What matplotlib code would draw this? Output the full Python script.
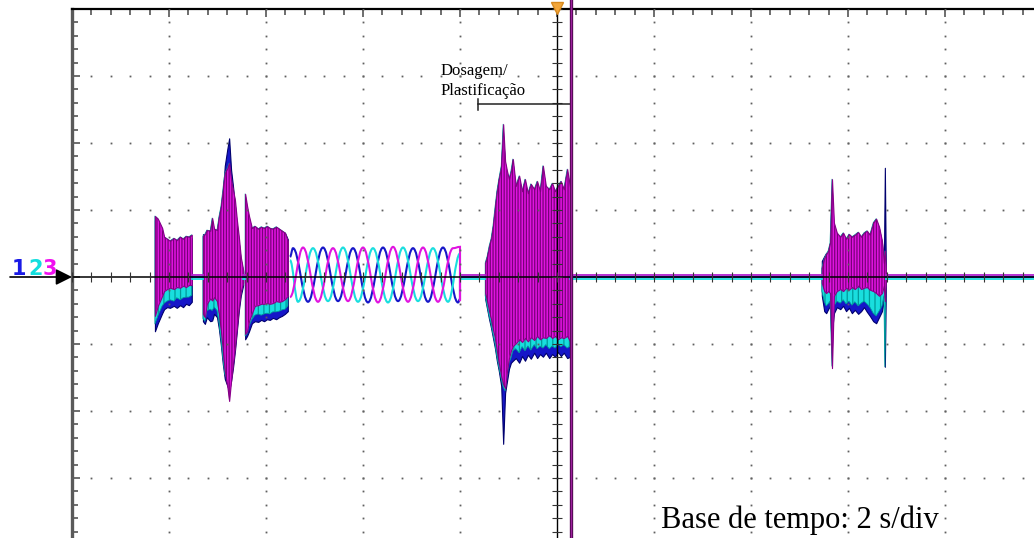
import matplotlib
matplotlib.use('Agg')
import matplotlib.pyplot as plt
from matplotlib.path import Path
from matplotlib.patches import PathPatch
from matplotlib.ticker import MultipleLocator
import numpy as np

plt.rcParams['hatch.linewidth'] = 0.9

# trace colours: ch1 blue, ch2 cyan, ch3 magenta
C_BLUE = '#1616c8'
C_CYAN = '#19dede'
C_MAG = '#e014e0'

# time in s (2 s/div), amplitude in divisions

# burst 1
b1_t = [1.71, 1.77, 1.86, 1.90, 1.96, 2.02, 2.10, 2.16, 2.23, 2.29, 2.35, 2.41, 2.47]
b1_mag_hi = [0.91, 0.87, 0.73, 0.60, 0.57, 0.54, 0.58, 0.55, 0.60, 0.57, 0.61, 0.60, 0.63]
b1_mag_lo = [-0.58, -0.43, -0.28, -0.21, -0.18, -0.16, -0.18, -0.15, -0.16, -0.13, -0.15, -0.12, -0.12]
b1_cya_lo = [-0.70, -0.58, -0.43, -0.39, -0.36, -0.34, -0.36, -0.31, -0.34, -0.31, -0.30, -0.30, -0.27]
b1_blu_hi = [0.85, 0.82, 0.68, 0.56, 0.53, 0.50, 0.54, 0.51, 0.56, 0.53, 0.57, 0.56, 0.58]
b1_blu_lo = [-0.81, -0.69, -0.54, -0.48, -0.45, -0.46, -0.43, -0.46, -0.42, -0.45, -0.40, -0.42, -0.37]

# burst 2
b2_t = [2.70, 2.74, 2.78, 2.85, 2.89, 2.93, 2.99, 3.03, 3.07, 3.11, 3.15, 3.20, 3.24, 3.28,
        3.32, 3.36, 3.40, 3.44, 3.48, 3.53]
b2_mag_hi = [0.61, 0.64, 0.70, 0.69, 0.88, 0.72, 0.70, 0.90, 1.05, 1.30, 1.55, 1.62, 1.70, 1.45,
             1.30, 1.15, 0.85, 0.60, 0.30, 0.10]
b2_mag_lo = [-0.55, -0.60, -0.40, -0.32, -0.35, -0.30, -0.36, -0.55, -0.80, -1.10, -1.40, -1.62,
             -1.85, -1.55, -1.30, -1.05, -0.75, -0.45, -0.22, -0.08]
b2_cya_lo = [-0.62, -0.66, -0.50, -0.48, -0.50, -0.45, -0.50, -0.68, -0.92, -1.20, -1.45, -1.52,
             -1.55, -1.45, -1.25, -1.00, -0.70, -0.45, -0.25, -0.10]
b2_blu_hi = [0.64, 0.60, 0.62, 0.60, 0.70, 0.66, 0.62, 0.80, 0.98, 1.25, 1.66, 1.90, 2.07, 1.60,
             1.35, 1.05, 0.75, 0.50, 0.25, 0.08]
b2_blu_lo = [-0.66, -0.70, -0.60, -0.66, -0.65, -0.55, -0.60, -0.78, -1.02, -1.30, -1.52, -1.62,
             -1.70, -1.55, -1.35, -1.10, -0.80, -0.50, -0.28, -0.12]

# burst 3
b3_t = [3.57, 3.61, 3.65, 3.71, 3.77, 3.84, 3.90, 3.96, 4.02, 4.08, 4.14, 4.21, 4.27, 4.33, 4.39, 4.45]
b3_mag_hi = [1.24, 1.06, 0.91, 0.73, 0.76, 0.72, 0.75, 0.73, 0.76, 0.73, 0.72, 0.75, 0.72, 0.69, 0.66, 0.54]
b3_mag_lo = [-0.85, -0.81, -0.66, -0.54, -0.43, -0.42, -0.40, -0.40, -0.39, -0.40, -0.39, -0.36,
             -0.37, -0.36, -0.33, -0.28]
b3_cya_lo = [-0.88, -0.84, -0.73, -0.63, -0.57, -0.55, -0.57, -0.55, -0.54, -0.55, -0.52, -0.52,
             -0.51, -0.49, -0.48, -0.43]
b3_blu_hi = [1.10, 0.98, 0.85, 0.70, 0.72, 0.69, 0.71, 0.70, 0.72, 0.70, 0.69, 0.71, 0.70, 0.68, 0.66, 0.56]
b3_blu_lo = [-0.93, -0.88, -0.81, -0.69, -0.66, -0.67, -0.64, -0.66, -0.63, -0.64, -0.61, -0.63,
             -0.60, -0.58, -0.55, -0.51]

# three-phase section: extrema of each channel
wave_mag_t = [4.495, 4.763, 5.072, 5.381, 5.691, 6.000, 6.309, 6.619, 6.928, 7.237, 7.546, 7.856,
              8.000, 8.000, 8.000]
wave_mag_v = [-0.30, 0.44, -0.37, 0.43, -0.36, 0.44, -0.38, 0.45, -0.37, 0.44, -0.37, 0.43,
              0.45, -0.36, 0.0]
wave_cya_t = [4.495, 4.660, 4.969, 5.278, 5.588, 5.897, 6.206, 6.515, 6.825, 7.134, 7.443, 7.753,
              8.000, 8.000]
wave_cya_v = [0.25, -0.37, 0.43, -0.36, 0.44, -0.37, 0.43, -0.38, 0.44, -0.36, 0.43, -0.37, 0.35, 0.0]
wave_blu_t = [4.495, 4.557, 4.866, 5.175, 5.485, 5.794, 6.103, 6.412, 6.722, 7.031, 7.340, 7.649,
              7.959, 8.000, 8.000]
wave_blu_v = [0.30, 0.43, -0.37, 0.44, -0.36, 0.43, -0.38, 0.44, -0.36, 0.43, -0.37, 0.44, -0.38,
              -0.33, 0.0]

# burst 4 (dosing / plasticising)
b4_t = [8.52, 8.56, 8.60, 8.64, 8.68, 8.72, 8.76, 8.80, 8.85, 8.89, 8.93, 8.97, 9.01, 9.05, 9.09,
        9.15, 9.22, 9.28, 9.34, 9.40, 9.46, 9.53, 9.59, 9.65, 9.71, 9.77, 9.84, 9.90, 9.96, 10.02,
        10.08, 10.14, 10.21, 10.27]
b4_mag_hi = [0.21, 0.31, 0.46, 0.57, 0.76, 1.03, 1.28, 1.46, 1.66, 2.28, 1.73, 1.58, 1.46, 1.58, 1.76,
             1.36, 1.51, 1.28, 1.46, 1.25, 1.39, 1.31, 1.43, 1.28, 1.66, 1.36, 1.31, 1.40, 1.28, 1.36,
             1.43, 1.31, 1.61, 1.34]
b4_mag_lo = [-0.24, -0.36, -0.51, -0.63, -0.78, -0.91, -1.10, -1.28, -1.48, -1.60, -1.66, -1.40,
             -1.21, -1.10, -1.03, -0.99, -0.93, -0.97, -0.91, -0.96, -0.90, -0.94, -0.88, -0.93,
             -0.90, -0.91, -0.87, -0.91, -0.88, -0.93, -0.90, -0.91, -0.88, -0.96]
b4_cya_lo = [-0.28, -0.43, -0.58, -0.70, -0.85, -0.99, -1.18, -1.34, -1.52, -1.64, -1.70, -1.48,
             -1.28, -1.21, -1.10, -1.07, -1.13, -1.04, -1.10, -1.03, -1.09, -1.01, -1.07, -1.03,
             -1.06, -1.01, -1.07, -1.03, -1.06, -1.00, -1.04, -1.01, -1.06, -1.03]
b4_blu_hi = [0.18, 0.28, 0.42, 0.53, 0.72, 0.98, 1.22, 1.40, 1.60, 2.10, 1.66, 1.52, 1.40, 1.52, 1.68,
             1.30, 1.45, 1.22, 1.40, 1.20, 1.33, 1.25, 1.37, 1.22, 1.58, 1.30, 1.25, 1.34, 1.22, 1.30,
             1.37, 1.25, 1.52, 1.28]
b4_blu_lo = [-0.33, -0.48, -0.63, -0.76, -0.91, -1.06, -1.25, -1.40, -1.63, -2.49, -1.73, -1.55,
             -1.37, -1.28, -1.25, -1.21, -1.28, -1.18, -1.25, -1.16, -1.22, -1.13, -1.21, -1.15,
             -1.19, -1.13, -1.21, -1.15, -1.19, -1.12, -1.18, -1.13, -1.21, -1.19]

# burst 5
b5_t = [15.46, 15.51, 15.55, 15.59, 15.63, 15.67, 15.71, 15.77, 15.84, 15.90, 15.96, 16.02, 16.08,
        16.14, 16.21, 16.27, 16.33, 16.39, 16.45, 16.52, 16.58, 16.64, 16.70, 16.74, 16.76, 16.78]
b5_mag_hi = [0.13, 0.28, 0.34, 0.39, 0.51, 1.46, 0.81, 0.66, 0.60, 0.66, 0.57, 0.64, 0.60, 0.63, 0.67,
             0.60, 0.66, 0.69, 0.63, 0.81, 0.87, 0.75, 0.54, 0.21, 0.39, 0.12]
b5_mag_lo = [-0.09, -0.21, -0.24, -0.21, -0.24, -1.36, -0.28, -0.21, -0.18, -0.21, -0.16, -0.19,
             -0.15, -0.18, -0.13, -0.18, -0.16, -0.15, -0.19, -0.21, -0.24, -0.28, -0.24, -0.13,
             -0.36, -0.06]
b5_cya_lo = [-0.21, -0.36, -0.43, -0.40, -0.36, -1.33, -0.43, -0.36, -0.39, -0.34, -0.40, -0.36,
             -0.42, -0.37, -0.43, -0.39, -0.36, -0.40, -0.45, -0.54, -0.58, -0.51, -0.43, -0.28,
             -1.34, -0.13]
b5_blu_hi = [0.24, 0.31, 0.36, 0.36, 0.46, 0.99, 0.70, 0.63, 0.57, 0.63, 0.54, 0.61, 0.57, 0.60, 0.64,
             0.57, 0.63, 0.66, 0.60, 0.78, 0.84, 0.72, 0.51, 0.21, 1.63, 0.10]
b5_blu_lo = [-0.28, -0.51, -0.54, -0.48, -0.43, -0.81, -0.54, -0.45, -0.48, -0.43, -0.51, -0.46,
             -0.54, -0.49, -0.55, -0.51, -0.45, -0.52, -0.58, -0.66, -0.69, -0.60, -0.51, -0.33,
             -1.34, -0.18]

# flat (idle) stretches of the three traces
idle_segments = [(2.47, 2.70), (3.53, 3.57), (8.00, 8.52), (10.27, 15.46), (16.78, 20.0)]

# full-scale spike at the end of dosing
spike_t = 10.29

bursts = [
    (b1_t, b1_mag_hi, b1_mag_lo, b1_cya_lo, b1_blu_hi, b1_blu_lo),
    (b2_t, b2_mag_hi, b2_mag_lo, b2_cya_lo, b2_blu_hi, b2_blu_lo),
    (b3_t, b3_mag_hi, b3_mag_lo, b3_cya_lo, b3_blu_hi, b3_blu_lo),
    (b4_t, b4_mag_hi, b4_mag_lo, b4_cya_lo, b4_blu_hi, b4_blu_lo),
    (b5_t, b5_mag_hi, b5_mag_lo, b5_cya_lo, b5_blu_hi, b5_blu_lo),
]


def smooth_trace(ax, ts, vs, color, lw=1.5, k=0.38):
    # cubic segments with flat tangents at each extremum
    verts = [(ts[0], vs[0])]
    codes = [Path.MOVETO]
    for i in range(1, len(ts)):
        t0, v0, t1, v1 = ts[i - 1], vs[i - 1], ts[i], vs[i]
        d = (t1 - t0) * k
        verts += [(t0 + d, v0), (t1 - d, v1), (t1, v1)]
        codes += [Path.CURVE4] * 3
    ax.add_patch(PathPatch(Path(verts, codes), fill=False, edgecolor=color, lw=lw, zorder=4))


fig = plt.figure(figsize=(10.34, 5.38), dpi=100)
ax = fig.add_axes([72 / 1034, -7 / 538, 970 / 1034, 536 / 538])
ax.set_xlim(0, 20)
ax.set_ylim(-4, 4)

ax.spines['right'].set_visible(False)
ax.spines['bottom'].set_visible(False)
ax.spines['left'].set_color('#5a5a5a')
ax.spines['left'].set_linewidth(2.4)
ax.spines['top'].set_color('black')
ax.spines['top'].set_linewidth(1.6)

ax.xaxis.set_major_locator(MultipleLocator(2))
ax.xaxis.set_minor_locator(MultipleLocator(0.4))
ax.yaxis.set_major_locator(MultipleLocator(1))
ax.yaxis.set_minor_locator(MultipleLocator(0.2))
ax.tick_params(which='both', direction='in', top=True, bottom=False, left=True, right=False,
               labeltop=False, labelbottom=False, labelleft=False, color='#555555', width=1.2)
ax.tick_params(which='major', length=6)
ax.tick_params(which='minor', length=4)

# dotted graticule
minor_t = np.arange(0, 20.001, 0.4)
minor_v = np.arange(-4, 4.001, 0.2)
for v in (-3, -2, -1, 1, 2, 3):
    ax.plot(minor_t, np.full_like(minor_t, v), ls='none', marker='s', ms=1.3, mew=0,
            color='#606060', zorder=5)
for t in (2, 4, 6, 8, 12, 14, 16, 18):
    ax.plot(np.full_like(minor_v, t), minor_v, ls='none', marker='s', ms=1.3, mew=0,
            color='#606060', zorder=5)

# idle traces
for a, b in idle_segments:
    ax.plot([a, b], [-0.03, -0.03], color=C_CYAN, lw=1.3, zorder=3)
    ax.plot([a, b], [0.0, 0.0], color=C_BLUE, lw=1.3, zorder=3)
    ax.plot([a, b], [0.035, 0.035], color='#b020d0', lw=1.3, zorder=3)

# bursts: blue under cyan under magenta, with streaks from the dense oscillation
for t, mag_hi, mag_lo, cya_lo, blu_hi, blu_lo in bursts:
    ax.fill_between(t, blu_lo, blu_hi, facecolor=C_BLUE, edgecolor='#00006e', lw=0.8, zorder=2)
    plt.rcParams['hatch.color'] = '#0a8a8a'
    ax.fill_between(t, cya_lo, mag_hi, facecolor=C_CYAN, edgecolor='#009a9a', hatch='|||',
                    lw=0.6, zorder=2.1)
    ax.fill_between(t, mag_lo, mag_hi, facecolor=C_MAG, edgecolor='#8a008a', lw=0.8, zorder=2.2)
    plt.rcParams['hatch.color'] = '#7a007a'
    ax.fill_between(t, mag_lo, mag_hi, facecolor='none', edgecolor='#7a007a', hatch='||||||',
                    lw=0, zorder=2.3)

# three-phase waves
smooth_trace(ax, wave_blu_t, wave_blu_v, C_BLUE)
smooth_trace(ax, wave_cya_t, wave_cya_v, C_CYAN)
smooth_trace(ax, wave_mag_t, wave_mag_v, C_MAG)

# spike
ax.plot([spike_t, spike_t], [4.2, -4.2], color='#5a0a5a', lw=2.4, zorder=7, clip_on=False)
ax.plot([spike_t, spike_t], [4.2, -4.2], color='#a020a0', lw=0.7, zorder=7.1, clip_on=False)

# centre axes with sub-division ticks
ax.axhline(0, color='black', lw=1.1, zorder=6)
ax.axvline(10, color='black', lw=1.0, zorder=6)
ax.plot(minor_t, np.zeros_like(minor_t), ls='none', marker='|', ms=7, mew=0.8, color='#333333', zorder=6)
ax.plot(np.full_like(minor_v, 10), minor_v, ls='none', marker='_', ms=7, mew=0.8, color='#333333', zorder=6)

# trigger marker
ax.plot([10], [4.02], marker='v', ms=9, color='#f3a63a', mec='#d88a20', clip_on=False, zorder=10)

# dosing annotation
ax.plot([8.37, spike_t], [2.58, 2.58], color='#222222', lw=1.1, zorder=6)
ax.plot([8.37, 8.37], [2.50, 2.66], color='#222222', lw=1.1, zorder=6)
ax.text(7.59, 3.01, 'Dosagem/', family='Liberation Serif', fontsize=12, va='baseline', zorder=8)
ax.text(7.59, 2.72, 'Plastificação', family='Liberation Serif', fontsize=12, va='baseline', zorder=8)

ax.text(12.14, -3.75, 'Base de tempo: 2 s/div', family='Liberation Serif', fontsize=22,
        va='baseline', zorder=8)

# channel labels and ground arrow
for x, s, c in ((12, '1', '#1a1ae6'), (28, '2', '#12dede'), (43, '3', '#f010f0')):
    fig.text(x / 1034, (538 - 275) / 538, s, color=c, fontsize=15, fontweight='bold',
             va='baseline', ha='left')
ax.annotate('', xy=(0, 0), xytext=(-62, 0), textcoords='offset pixels', annotation_clip=False,
            arrowprops=dict(arrowstyle='-|>,head_length=0.7,head_width=0.35', color='black',
                            lw=1.2, shrinkA=0, shrinkB=0, mutation_scale=14))

fig.savefig('out.png', dpi=100)
